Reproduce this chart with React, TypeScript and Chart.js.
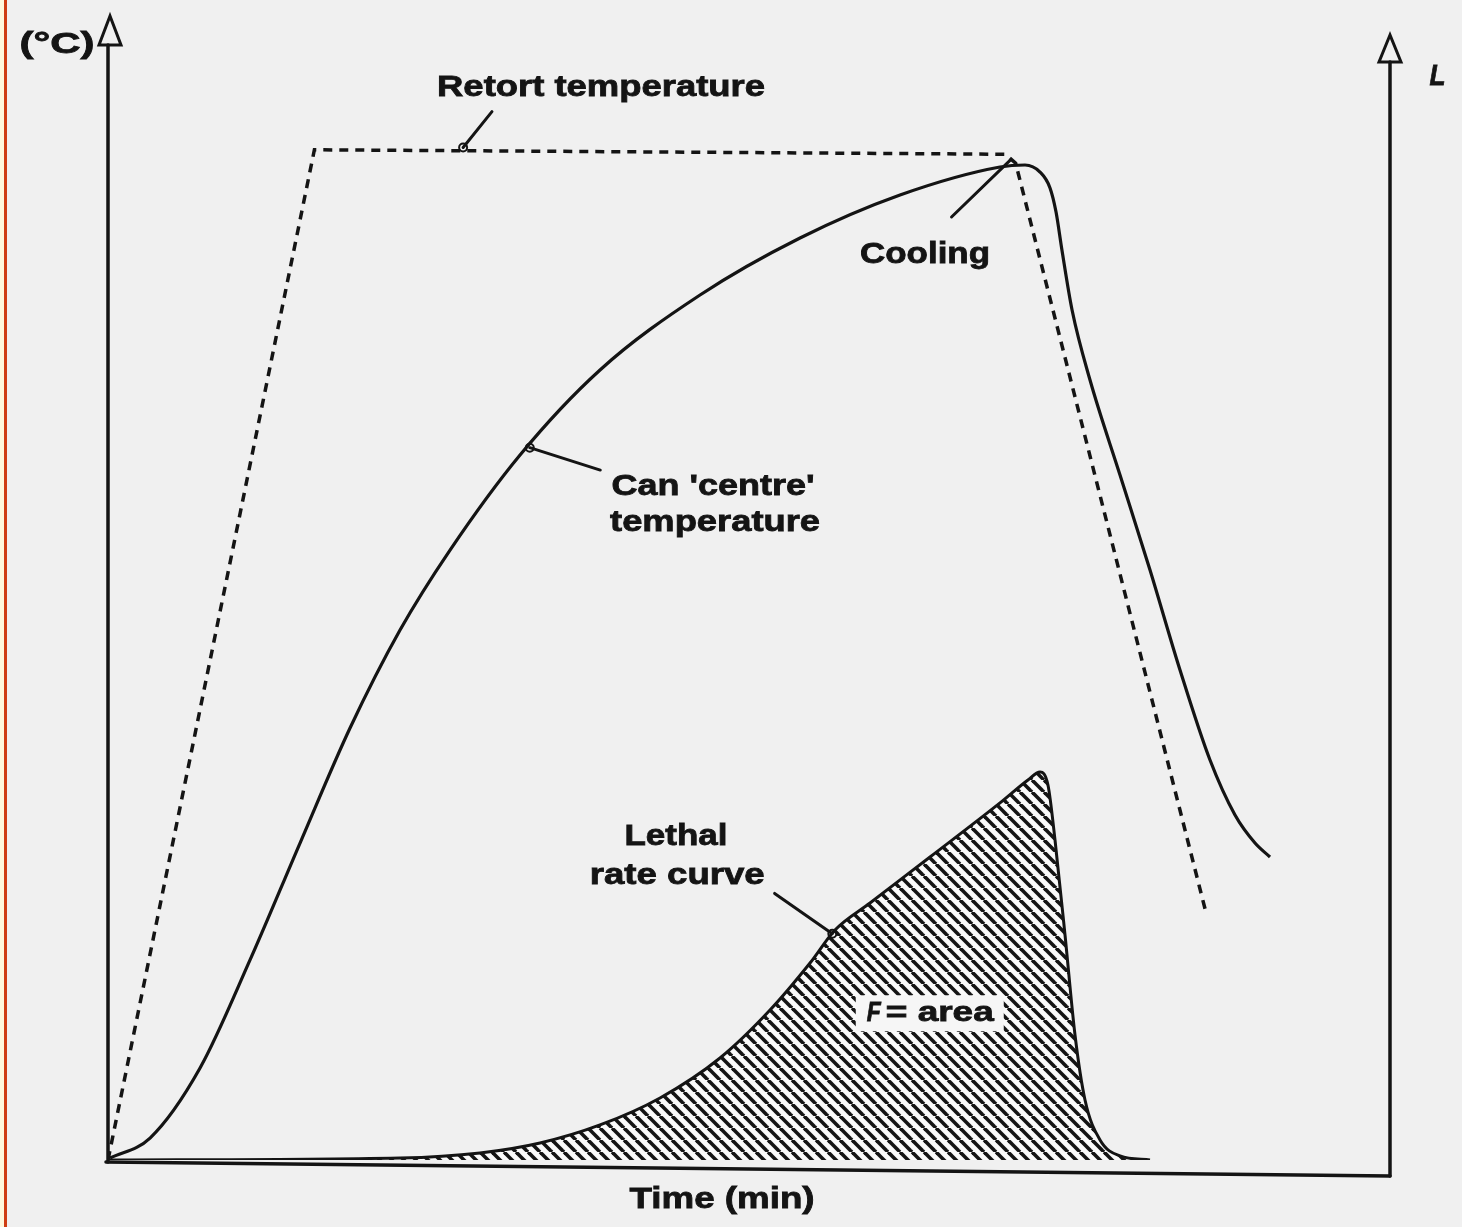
import React, { useEffect, useRef } from "react";
import { Chart, registerables } from "chart.js";

Chart.register(...registerables);

// ---- Data (time in arbitrary minutes units 0..100, temperature / lethal rate 0..100) ----
const retortTime = [0, 16.1, 70.0, 70.8, 85.6];
const retortTemp = [0, 90.2, 89.8, 89.0, 22.3];

const centreTime = [0.16, 3.28, 7.18, 11.08, 14.98, 18.88, 22.78, 26.68, 32.14, 38.38, 46.18, 53.98, 61.78, 69.58, 71.53, 72.7, 73.48, 73.95, 74.41, 75.2, 76.6, 78.94, 81.28, 83.62, 85.96, 87.91, 89.47, 90.64];
const centreTemp = [0.18, 1.96, 8.21, 17.86, 28.3, 38.57, 47.32, 54.46, 62.95, 70.54, 77.23, 82.32, 86.16, 88.66, 88.84, 88.21, 86.79, 84.64, 81.25, 75.89, 69.64, 61.16, 52.68, 43.75, 35.71, 30.8, 28.3, 27.05];

const lethalTime = [0, 22.78, 29.02, 33.7, 38.38, 43.06, 47.74, 51.64, 54.76, 56.71, 59.44, 64.12, 69.58, 71.76, 72.7, 73.32, 73.87, 74.65, 75.43, 76.21, 77.38, 78.94, 81.28];
const lethalRate = [0, 0.18, 0.63, 1.52, 3.13, 5.54, 9.11, 13.39, 17.59, 20.54, 22.95, 27.05, 31.88, 33.93, 34.64, 33.48, 28.57, 20.09, 11.16, 5.36, 1.79, 0.36, 0];

const labelTexts = ["Retort temperature", "Cooling", "Can 'centre'", "temperature", "Lethal", "rate curve", "Time (min)", "(°C)", "L"];

const toPts = (xs: number[], ys: number[]) => xs.map((x, i) => ({ x, y: ys[i] }));

// label placements (data units) and fitted widths (px)
const labelPlace = [
  { x: 38.46, y: 95.7, w: 328, s: 30, style: "bold" },
  { x: 63.73, y: 80.8, w: 130, s: 30, style: "bold" },
  { x: 47.2, y: 60.1, w: 203, s: 30, style: "bold" },
  { x: 47.35, y: 56.9, w: 210, s: 30, style: "bold" },
  { x: 44.3, y: 28.9, w: 103, s: 30, style: "bold" },
  { x: 44.4, y: 25.4, w: 175, s: 30, style: "bold" },
  { x: 47.9, y: -3.57, w: 185, s: 30, style: "bold" },
  { x: -3.98, y: 99.55, w: 75, s: 30, style: "bold" },
  { x: 103.7, y: 96.7, w: 16, s: 30, style: "italic bold" },
];

const pointers = [
  { x1: 29.95, y1: 93.6, x2: 27.7, y2: 90.4, ring: true },
  { x1: 65.8, y1: 84.2, x2: 70.4, y2: 89.3, ring: false },
  { x1: 38.4, y1: 61.6, x2: 32.9, y2: 63.6, ring: true },
  { x1: 52.0, y1: 23.8, x2: 56.5, y2: 20.2, ring: true },
];

const INK = "#141414";
const FONT = '"Liberation Sans", Arial, sans-serif';

function drawFit(ctx: CanvasRenderingContext2D, text: string, cx: number, cy: number, w: number, size: number, style: string) {
  ctx.save();
  ctx.font = `${style} ${size}px ${FONT}`;
  const m = ctx.measureText(text).width;
  ctx.translate(cx, cy);
  ctx.scale(w / m, 1);
  ctx.textAlign = "center";
  ctx.textBaseline = "middle";
  ctx.fillStyle = INK;
  ctx.strokeStyle = INK;
  ctx.lineWidth = 0.8;
  ctx.fillText(text, 0, 0);
  ctx.strokeText(text, 0, 0);
  ctx.restore();
}

function makeHatch(): CanvasPattern | string {
  const s = 12;
  const c = document.createElement("canvas");
  c.width = s;
  c.height = s;
  const g = c.getContext("2d");
  if (!g) return "#888";
  g.fillStyle = "#fafafa";
  g.fillRect(0, 0, s, s);
  g.strokeStyle = INK;
  g.lineWidth = 3.6;
  for (const x0 of [-s, 0, s]) {
    g.beginPath();
    g.moveTo(x0, 0);
    g.lineTo(x0 + s, s);
    g.stroke();
  }
  const p = g.createPattern(c, "repeat");
  return p || "#888";
}

const decor = {
  id: "decor",
  beforeDraw(chart: any) {
    const ctx: CanvasRenderingContext2D = chart.ctx;
    ctx.save();
    ctx.fillStyle = "#f0f0f0";
    ctx.fillRect(0, 0, chart.width, chart.height);
    ctx.fillStyle = "#fff8dc";
    ctx.fillRect(0, 0, 4, chart.height);
    ctx.fillStyle = "#cf3d12";
    ctx.fillRect(4, 0, 3, chart.height);
    ctx.restore();
  },
  afterDatasetsDraw(chart: any) {
    const ctx: CanvasRenderingContext2D = chart.ctx;
    const xs = chart.scales.x;
    const ys = chart.scales.y;
    const X = (v: number) => xs.getPixelForValue(v);
    const Y = (v: number) => ys.getPixelForValue(v);
    ctx.save();
    ctx.strokeStyle = INK;
    ctx.lineCap = "round";

    // axes
    const x0 = X(0), x1 = X(100), y0 = Y(0);
    ctx.lineWidth = 3.5;
    ctx.beginPath();
    ctx.moveTo(x0, y0 + 2);
    ctx.lineTo(x0, Y(100) + 5);
    ctx.stroke();
    ctx.beginPath();
    ctx.moveTo(x0 - 2, y0 + 2);
    ctx.lineTo(x1, y0 + 16);
    ctx.stroke();
    ctx.beginPath();
    ctx.moveTo(x1, y0 + 16);
    ctx.lineTo(x1, Y(100) + 22);
    ctx.stroke();
    // arrowheads (open triangles)
    const arrow = (ax: number, tip: number, base: number) => {
      ctx.lineWidth = 3;
      ctx.beginPath();
      ctx.moveTo(ax, tip);
      ctx.lineTo(ax - 11, base);
      ctx.lineTo(ax + 11, base);
      ctx.closePath();
      ctx.stroke();
    };
    arrow(x0 + 2, Y(100) - 24, Y(100) + 5);
    arrow(x1, Y(100) - 5, Y(100) + 22);

    // pointers
    ctx.lineWidth = 3;
    for (const p of pointers) {
      ctx.beginPath();
      ctx.moveTo(X(p.x1), Y(p.y1));
      ctx.lineTo(X(p.x2), Y(p.y2));
      ctx.stroke();
      if (p.ring) {
        ctx.beginPath();
        ctx.lineWidth = 2;
        ctx.arc(X(p.x2), Y(p.y2), 4, 0, Math.PI * 2);
        ctx.stroke();
        ctx.lineWidth = 3;
      }
    }

    // labels
    labelTexts.forEach((t, i) => {
      const lp = labelPlace[i];
      drawFit(ctx, t, X(lp.x), Y(lp.y), lp.w, lp.s, lp.style);
    });

    // F = area box
    const fx = X(64.1), fy = Y(13.1);
    ctx.fillStyle = "#f6f6f6";
    ctx.fillRect(fx - 74, fy - 18, 148, 36);
    drawFit(ctx, "F", fx - 56, fy, 14, 28, "italic bold");
    drawFit(ctx, "= area", fx + 10, fy, 108, 28, "bold");
    ctx.restore();
  },
};

export default function App() {
  const ref = useRef<HTMLCanvasElement | null>(null);
  useEffect(() => {
    if (!ref.current) return;
    const hatch = makeHatch();
    const chart = new Chart(ref.current, {
      type: "line",
      data: {
        datasets: [
          {
            label: "Lethal rate curve",
            data: toPts(lethalTime, lethalRate),
            borderColor: INK,
            borderWidth: 3,
            backgroundColor: hatch as any,
            fill: "origin",
            pointRadius: 0,
            cubicInterpolationMode: "monotone",
          },
          {
            label: "Retort temperature",
            data: toPts(retortTime, retortTemp),
            borderColor: INK,
            borderWidth: 3.5,
            borderDash: [9, 7],
            fill: false,
            pointRadius: 0,
            tension: 0,
          },
          {
            label: "Can 'centre' temperature",
            data: toPts(centreTime, centreTemp),
            borderColor: INK,
            borderWidth: 3.2,
            fill: false,
            pointRadius: 0,
            cubicInterpolationMode: "monotone",
          },
        ],
      },
      options: {
        animation: false,
        responsive: false,
        maintainAspectRatio: false,
        layout: { padding: { left: 108, right: 72, top: 40, bottom: 67 } },
        plugins: { legend: { display: false }, tooltip: { enabled: false } },
        scales: {
          x: { type: "linear", min: 0, max: 100, display: false },
          y: { type: "linear", min: 0, max: 100, display: false },
        },
      },
      plugins: [decor],
    });
    return () => chart.destroy();
  }, []);
  return (
    <div style={{ position: "absolute", left: 0, top: 0, width: 1462, height: 1227 }}>
      <canvas ref={ref} width={1462} height={1227} style={{ width: 1462, height: 1227, display: "block" }} />
    </div>
  );
}
